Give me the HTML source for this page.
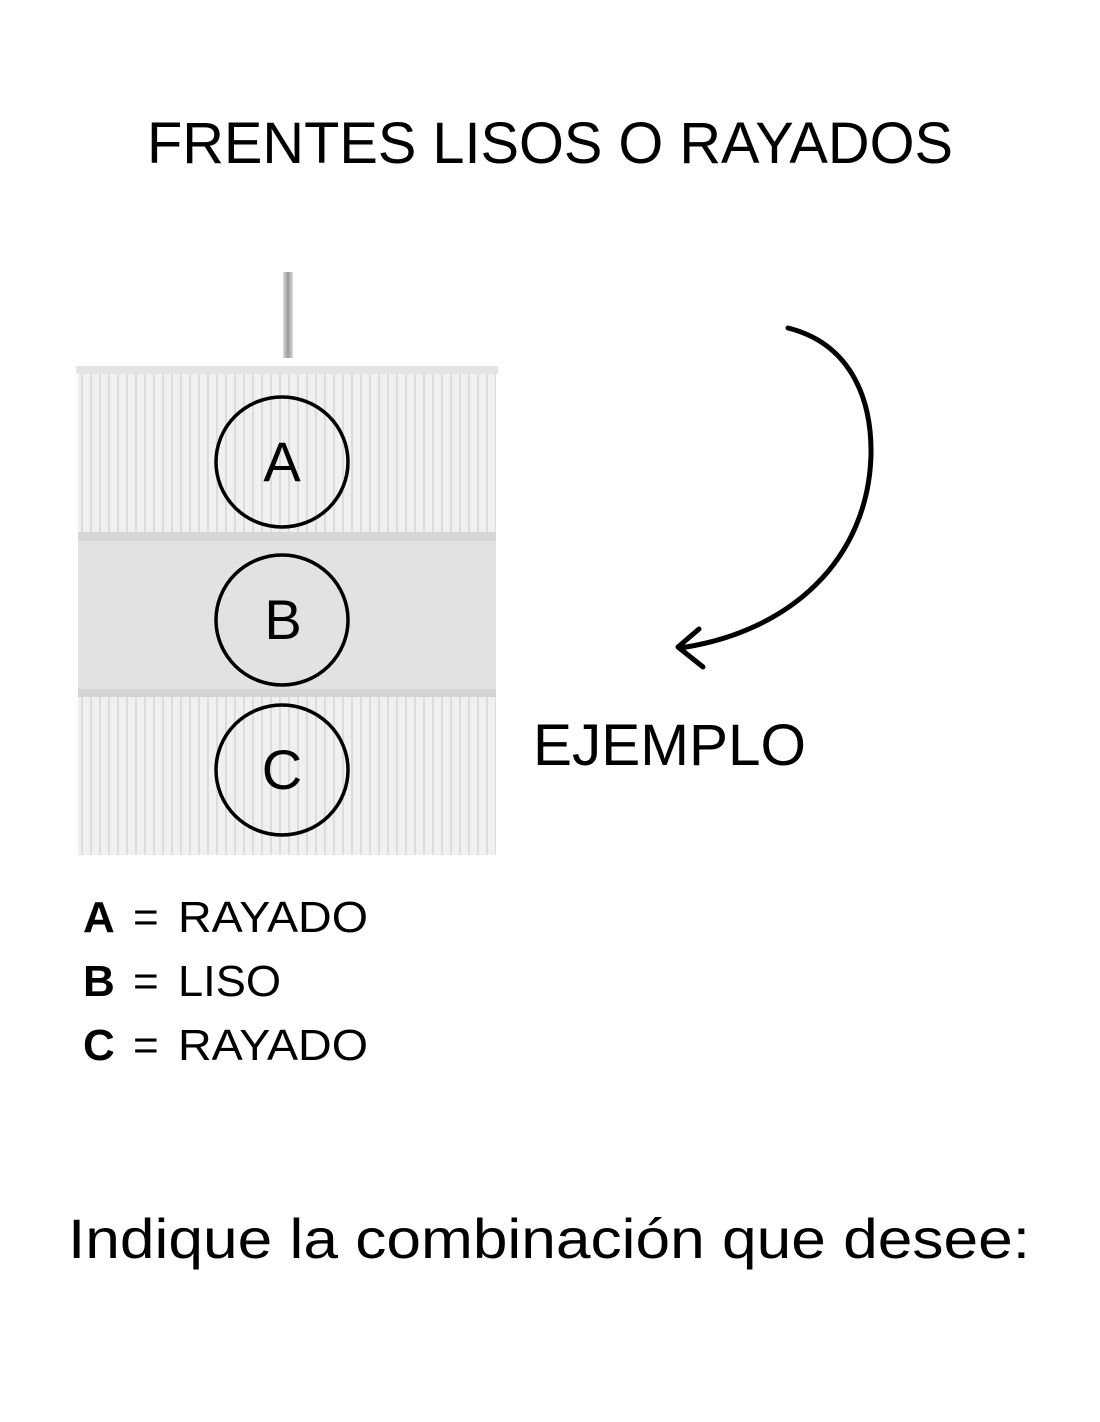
<!DOCTYPE html>
<html><head><meta charset="utf-8"><style>html,body{margin:0;padding:0;background:#fff}svg{display:block}</style></head>
<body>
<svg width="1100" height="1422" viewBox="0 0 1100 1422" xmlns="http://www.w3.org/2000/svg" font-family="Liberation Sans, sans-serif">
<defs>
<pattern id="stripes" width="9" height="10" patternUnits="userSpaceOnUse">
<rect width="9" height="10" fill="#f0f0f0"/>
<rect x="0" width="2" height="10" fill="#dcdcdc"/>
</pattern>
<linearGradient id="pole" x1="0" x2="1"><stop offset="0" stop-color="#ddd"/><stop offset="0.5" stop-color="#9a9a9a"/><stop offset="1" stop-color="#ddd"/></linearGradient>
</defs>
<text x="147" y="163" font-size="58" textLength="806" lengthAdjust="spacingAndGlyphs" fill="#000">FRENTES LISOS O RAYADOS</text>
<rect x="283" y="272" width="10" height="86" fill="url(#pole)"/>
<rect x="76" y="366" width="422" height="8" fill="#e4e4e4"/>
<rect x="78" y="374" width="418" height="158" fill="url(#stripes)"/>
<rect x="78" y="532" width="418" height="9" fill="#d6d6d6"/>
<rect x="78" y="541" width="418" height="148" fill="#e2e2e2"/>
<rect x="78" y="689" width="418" height="8" fill="#d4d4d4"/>
<rect x="78" y="697" width="418" height="158" fill="url(#stripes)"/>
<g fill="none" stroke="#000" stroke-width="3.5">
<ellipse cx="282" cy="462" rx="66" ry="65"/>
<ellipse cx="282" cy="620" rx="66" ry="65"/>
<ellipse cx="282" cy="770" rx="66" ry="65"/>
</g>
<g font-size="56" text-anchor="middle" fill="#000">
<text x="282" y="481">A</text>
<text x="283" y="639">B</text>
<text x="282" y="789">C</text>
</g>
<g fill="none" stroke="#000" stroke-width="5" stroke-linecap="round" stroke-linejoin="round">
<path d="M788,328 C848,343 872,395 871,455 C868,560 790,632 680,648"/>
<path d="M699,629 L678,647 L703,667"/>
</g>
<text x="533" y="765" font-size="58" textLength="273" lengthAdjust="spacingAndGlyphs">EJEMPLO</text>
<g font-size="44" fill="#000">
<text x="83" y="932" font-weight="bold">A</text><text x="133" y="932">=</text><text x="178" y="932" textLength="190" lengthAdjust="spacingAndGlyphs">RAYADO</text>
<text x="83" y="996" font-weight="bold">B</text><text x="133" y="996">=</text><text x="178" y="996" textLength="103" lengthAdjust="spacingAndGlyphs">LISO</text>
<text x="83" y="1060" font-weight="bold">C</text><text x="133" y="1060">=</text><text x="178" y="1060" textLength="190" lengthAdjust="spacingAndGlyphs">RAYADO</text>
</g>
<text x="68" y="1258" font-size="56" textLength="962" lengthAdjust="spacingAndGlyphs">Indique la combinación que desee:</text>
</svg>
</body></html>
